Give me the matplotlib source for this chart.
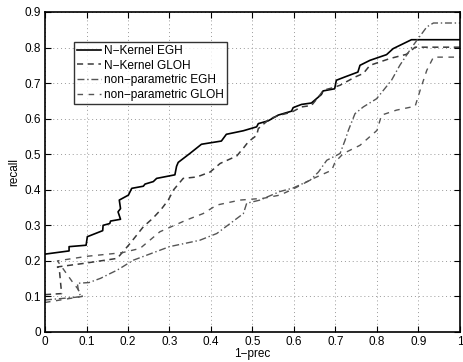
import matplotlib
matplotlib.use("Agg")
import matplotlib.pyplot as plt

# N-Kernel EGH (solid)
nk_egh_x = [0.0, 0.058, 0.058, 0.099, 0.102, 0.139, 0.14, 0.156, 0.158, 0.182, 0.176, 0.182, 0.179,
            0.201, 0.209, 0.237, 0.241, 0.261, 0.269, 0.313, 0.317, 0.321, 0.349, 0.377, 0.425, 0.437,
            0.478, 0.510, 0.514, 0.538, 0.562, 0.594, 0.598, 0.618, 0.642, 0.666, 0.670, 0.698, 0.702,
            0.722, 0.754, 0.759, 0.783, 0.823, 0.839, 0.883, 1.0]
nk_egh_y = [0.219, 0.228, 0.240, 0.244, 0.268, 0.285, 0.300, 0.305, 0.312, 0.317, 0.338, 0.347, 0.371,
            0.385, 0.404, 0.410, 0.416, 0.423, 0.432, 0.442, 0.466, 0.477, 0.502, 0.528, 0.537, 0.556,
            0.566, 0.577, 0.586, 0.594, 0.610, 0.621, 0.631, 0.640, 0.644, 0.668, 0.678, 0.684, 0.708,
            0.717, 0.731, 0.750, 0.764, 0.780, 0.797, 0.822, 0.822]

# N-Kernel GLOH (dashed)
nk_gloh_x = [0.0, 0.04, 0.035, 0.03, 0.094, 0.174, 0.205, 0.237, 0.26, 0.28, 0.297, 0.31, 0.333, 0.366,
             0.398, 0.422, 0.462, 0.48, 0.49, 0.51, 0.514, 0.542, 0.566, 0.594, 0.618, 0.642, 0.659,
             0.671, 0.694, 0.711, 0.747, 0.767, 0.783, 0.831, 0.871, 0.892, 1.0]
nk_gloh_y = [0.105, 0.108, 0.17, 0.183, 0.193, 0.207, 0.249, 0.296, 0.32, 0.345, 0.371, 0.40, 0.432, 0.436,
             0.45, 0.474, 0.495, 0.52, 0.535, 0.553, 0.572, 0.600, 0.610, 0.618, 0.633, 0.637, 0.661,
             0.680, 0.687, 0.694, 0.717, 0.727, 0.750, 0.769, 0.781, 0.801, 0.801]

# non-parametric EGH (dash-dot)
np_egh_x = [0.0, 0.086, 0.08, 0.078, 0.106, 0.134, 0.158, 0.174, 0.213, 0.30, 0.373, 0.414, 0.446,
            0.478, 0.486, 0.518, 0.566, 0.598, 0.639, 0.659, 0.679, 0.711, 0.723, 0.731, 0.747, 0.767,
            0.799, 0.835, 0.855, 0.884, 0.920, 0.936, 1.0]
np_egh_y = [0.09, 0.099, 0.12, 0.137, 0.139, 0.151, 0.165, 0.174, 0.202, 0.24, 0.258, 0.277, 0.305,
            0.333, 0.362, 0.371, 0.395, 0.405, 0.427, 0.45, 0.483, 0.502, 0.539, 0.567, 0.614, 0.633,
            0.656, 0.708, 0.750, 0.801, 0.858, 0.869, 0.869]

# non-parametric GLOH (dashed, lighter)
np_gloh_x = [0.0, 0.09, 0.078, 0.066, 0.03, 0.102, 0.186, 0.229, 0.277, 0.341, 0.381, 0.414, 0.47,
             0.526, 0.566, 0.598, 0.647, 0.691, 0.699, 0.719, 0.759, 0.80, 0.811, 0.847, 0.892, 0.904,
             0.920, 0.936, 1.0]
np_gloh_y = [0.083, 0.10, 0.123, 0.141, 0.20, 0.213, 0.223, 0.235, 0.282, 0.315, 0.333, 0.357, 0.371,
             0.376, 0.385, 0.402, 0.432, 0.455, 0.478, 0.502, 0.525, 0.567, 0.610, 0.624, 0.635, 0.680,
             0.736, 0.773, 0.773]

labels = ["N\u2212Kernel EGH", "N\u2212Kernel GLOH", "non\u2212parametric EGH", "non\u2212parametric GLOH"]

plt.rcParams['font.family'] = ['Liberation Sans', 'DejaVu Sans']

fig = plt.figure(figsize=(4.63, 3.62), dpi=100)
ax = fig.add_axes([0.0972, 0.0829, 0.8963, 0.884])

ax.plot(nk_egh_x, nk_egh_y, color='black', lw=1.2, label=labels[0])
ax.plot(nk_gloh_x, nk_gloh_y, color='#3a3a3a', lw=1.1, ls=(0, (4, 3)), label=labels[1])
ax.plot(np_egh_x, np_egh_y, color='#555555', lw=1.0, ls=(0, (5, 2, 1, 2)), label=labels[2])
ax.plot(np_gloh_x, np_gloh_y, color='#555555', lw=1.0, ls=(0, (4, 4)), label=labels[3])

ax.set_xlim(0, 1)
ax.set_ylim(0, 0.9)
ax.set_xticks([i / 10 for i in range(11)])
ax.set_yticks([i / 10 for i in range(10)])
ax.set_xticklabels(['0', '0.1', '0.2', '0.3', '0.4', '0.5', '0.6', '0.7', '0.8', '0.9', '1'])
ax.set_yticklabels(['0', '0.1', '0.2', '0.3', '0.4', '0.5', '0.6', '0.7', '0.8', '0.9'])
ax.tick_params(direction='in', top=True, right=True, length=4, labelsize=8.5, pad=3)
ax.grid(True, ls=(0, (1, 3)), color='#999999', lw=0.7)
for s in ax.spines.values():
    s.set_linewidth(1.2)

ax.set_xlabel("1\u2212prec", fontsize=8.5, labelpad=0)
ax.set_ylabel("recall", fontsize=8.5, labelpad=3)

leg = ax.legend(loc='upper left', bbox_to_anchor=(0.07, 0.906), fontsize=8.6, frameon=True,
                fancybox=False, edgecolor='black', handlelength=2.0, handletextpad=0.25,
                borderpad=0.25, labelspacing=0.22, borderaxespad=0)
leg.get_frame().set_linewidth(1.0)

fig.savefig("out.png", dpi=100)
